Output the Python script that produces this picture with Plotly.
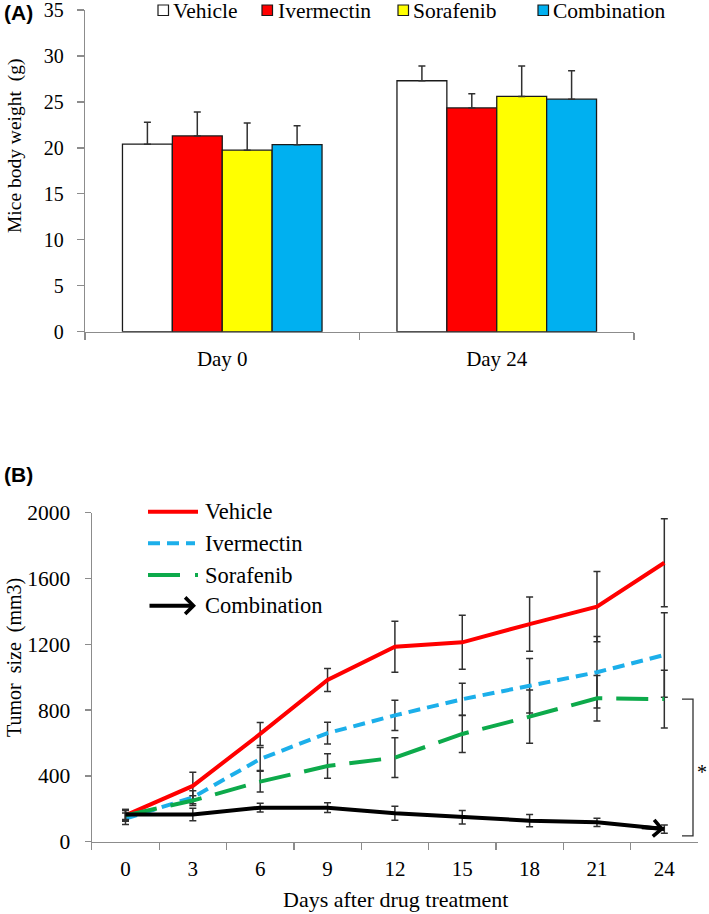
import plotly.graph_objects as go

# ---------------- Panel A data ----------------
groups = ["Day 0", "Day 24"]
weight_series = ["Vehicle", "Ivermectin", "Sorafenib", "Combination"]
vehicle_w = [20.4, 27.3]
vehicle_w_err = [2.4, 1.6]
ivermectin_w = [21.3, 24.35]
ivermectin_w_err = [2.6, 1.55]
sorafenib_w = [19.75, 25.6]
sorafenib_w_err = [2.95, 3.3]
combination_w = [20.35, 25.3]
combination_w_err = [2.05, 3.1]
weight_ticks = [0, 5, 10, 15, 20, 25, 30, 35]

# ---------------- Panel B data ----------------
days = ["0", "3", "6", "9", "12", "15", "18", "21", "24"]
vehicle = [160, 339, 655, 983, 1185, 1212, 1323, 1429, 1696]
vehicle_err = [35, 83, 70, 70, 155, 164, 165, 214, 267]
ivermectin = [140, 270, 503, 660, 768, 866, 948, 1030, 1135]
ivermectin_err = [35, 40, 70, 66, 92, 97, 165, 217, 257]
sorafenib = [160, 250, 365, 460, 511, 655, 760, 872, 867]
sorafenib_err = [30, 30, 63, 74, 121, 112, 162, 138, 176]
combination = [165, 166, 207, 207, 173, 148, 128, 118, 77]
combination_err = [30, 38, 27, 30, 43, 41, 37, 25, 25]
tumor_ticks = [0, 400, 800, 1200, 1600, 2000]

W, H = 709, 914
SERIF = "Liberation Serif"
AX = "#8c8c8c"
EB = "#303030"


def px(x):
    return x / W


def py(y):
    return 1 - y / H


traces = []

# ---------- Panel A bars ----------
bar_fill = {"Vehicle": "#FFFFFF", "Ivermectin": "#FF0000",
            "Sorafenib": "#FFFF00", "Combination": "#00B0F0"}
bar_vals = {"Vehicle": (vehicle_w, vehicle_w_err),
            "Ivermectin": (ivermectin_w, ivermectin_w_err),
            "Sorafenib": (sorafenib_w, sorafenib_w_err),
            "Combination": (combination_w, combination_w_err)}
for name in weight_series:
    vals, errs = bar_vals[name]
    traces.append(go.Bar(
        x=groups, y=vals, name=name, xaxis="x", yaxis="y",
        marker=dict(color=bar_fill[name], line=dict(color="#1a1a1a", width=1.3)),
        error_y=dict(type="data", array=errs, arrayminus=[0] * len(errs),
                     symmetric=False, color=EB, thickness=1.5, width=3.5),
        showlegend=False,
    ))

# ---------- Panel B lines ----------
line_specs = [
    ("Vehicle", vehicle, vehicle_err, "#FF0000", "solid"),
    ("Ivermectin", ivermectin, ivermectin_err, "#1CAFEA", "12px,7px"),
    ("Sorafenib", sorafenib, sorafenib_err, "#0DAA4B", "32px,14px"),
    ("Combination", combination, combination_err, "#000000", "solid"),
]
for name, vals, errs, col, dash in line_specs:
    traces.append(go.Scatter(
        x=days, y=vals, name=name, mode="lines", xaxis="x2", yaxis="y2",
        line=dict(color=col, width=4, dash=dash),
        error_y=dict(type="data", array=errs, color=EB, thickness=1.5, width=3.5),
        showlegend=False,
    ))

ann = []
shapes = []

# Arrow head at end of the Combination line (category index of last day)
ann.append(dict(
    x=len(days) - 1, y=combination[-1], xref="x2", yref="y2",
    ax=-24, ay=-2, axref="pixel", ayref="pixel",
    showarrow=True, arrowhead=4, arrowsize=0.8, arrowwidth=4,
    arrowcolor="#000000", text="",
))

# Panel labels
ann.append(dict(x=px(2), y=py(12), xref="paper", yref="paper", xanchor="left",
                yanchor="middle", text="<b>(A)</b>", showarrow=False,
                font=dict(family="Liberation Sans", size=21, color="#000")))
ann.append(dict(x=px(2), y=py(474), xref="paper", yref="paper", xanchor="left",
                yanchor="middle", text="<b>(B)</b>", showarrow=False,
                font=dict(family="Liberation Sans", size=21, color="#000")))

# Axis titles
ann.append(dict(x=px(15), y=py(146), xref="paper", yref="paper",
                xanchor="center", yanchor="middle", textangle=-90,
                text="Mice body weight\u00a0 (g)", showarrow=False,
                font=dict(family=SERIF, size=19.5, color="#000")))
ann.append(dict(x=px(14), y=py(658), xref="paper", yref="paper",
                xanchor="center", yanchor="middle", textangle=-90,
                text="Tumor\u00a0 size\u00a0 (mm3)", showarrow=False,
                font=dict(family=SERIF, size=20, color="#000")))
ann.append(dict(x=px(395), y=py(899), xref="paper", yref="paper",
                xanchor="center", yanchor="middle",
                text="Days after drug treatment", showarrow=False,
                font=dict(family=SERIF, size=22, color="#000")))

# Panel A legend (manual)
leg_a = [("Vehicle", 158, 171), ("Ivermectin", 262, 276),
         ("Sorafenib", 398, 411), ("Combination", 538, 551)]
for name, sx, tx in leg_a:
    shapes.append(dict(type="rect", xref="paper", yref="paper",
                       x0=px(sx), x1=px(sx + 10.5), y0=py(15.5), y1=py(5),
                       fillcolor=bar_fill[name],
                       line=dict(color="#1a1a1a", width=1.2)))
    ann.append(dict(x=px(tx), y=py(10.5), xref="paper", yref="paper",
                    xanchor="left", yanchor="middle", text=name,
                    showarrow=False,
                    font=dict(family=SERIF, size=21.5, color="#000")))

# Panel B legend (manual)
leg_b_rows = [511.7, 543.3, 575, 605.7]
for (name, vals, errs, col, dash), yy in zip(line_specs, leg_b_rows):
    if name == "Sorafenib":
        shapes.append(dict(type="line", xref="paper", yref="paper",
                           x0=px(148), x1=px(198), y0=py(yy), y1=py(yy),
                           line=dict(color=col, width=4,
                                     dash="32px,15px,3px,15px")))
    elif name == "Combination":
        ann.append(dict(x=px(196), y=py(yy), xref="paper", yref="paper",
                        ax=-48, ay=0, axref="pixel", ayref="pixel",
                        showarrow=True, arrowhead=4, arrowsize=0.8,
                        arrowwidth=4, arrowcolor=col, text=""))
    else:
        shapes.append(dict(type="line", xref="paper", yref="paper",
                           x0=px(148), x1=px(198 if dash == "solid" else 195),
                           y0=py(yy), y1=py(yy),
                           line=dict(color=col, width=4, dash=dash)))
    ann.append(dict(x=px(203), y=py(yy), xref="paper", yref="paper",
                    xanchor="left", yanchor="middle", text=name,
                    showarrow=False,
                    font=dict(family=SERIF, size=22.5, color="#000")))

# Significance bracket between Sorafenib and Combination at day 24
br_x0, br_x1 = px(682), px(693)
br_top = sorafenib[-1]
br_bot = 35
shapes.append(dict(type="path", xref="paper", yref="y2",
                   path=f"M {br_x0},{br_top} L {br_x1},{br_top} L {br_x1},{br_bot} L {br_x0},{br_bot}",
                   line=dict(color="#303030", width=1.3)))
ann.append(dict(x=px(702), y=(br_top + br_bot) / 2 - 30, xref="paper", yref="y2",
                xanchor="center", yanchor="middle", text="*", showarrow=False,
                font=dict(family=SERIF, size=20, color="#000")))

# ---------- Axes / layout ----------
line_style = dict(showline=True, linecolor=AX, linewidth=1.3, ticks="outside",
                  tickcolor=AX, tickwidth=1.3, showgrid=False, zeroline=False,
                  automargin=False, mirror=False, ticklabeloverflow="allow")

layout = go.Layout(
    template="none",
    width=W, height=H, autosize=False,
    margin=dict(l=0, r=0, t=0, b=0, pad=0),
    paper_bgcolor="white", plot_bgcolor="white",
    font=dict(family=SERIF, color="#000"),
    showlegend=False,
    barmode="group", bargap=0.273, bargroupgap=0,
    xaxis=dict(domain=[px(85), px(634)], anchor="y", type="category",
               categoryorder="array", categoryarray=groups, range=[-0.5, 1.5],
               tickson="boundaries", ticklen=7, ticklabelstandoff=8,
               tickfont=dict(family=SERIF, size=21, color="#000"), **line_style),
    yaxis=dict(domain=[py(331.7), py(10)], anchor="x", range=[0, 35],
               tickvals=weight_ticks, ticklen=7, ticklabelstandoff=9,
               tickfont=dict(family=SERIF, size=20, color="#000"), **line_style),
    xaxis2=dict(domain=[px(91.8), px(698)], anchor="y2", type="category",
                categoryorder="array", categoryarray=days, range=[-0.5, 8.5],
                tickson="boundaries", ticklen=7, ticklabelstandoff=8,
                tickangle=0,
                tickfont=dict(family=SERIF, size=21, color="#000"), **line_style),
    yaxis2=dict(domain=[py(841.7), py(512.7)], anchor="x2", range=[0, 2000],
                tickvals=tumor_ticks, ticklen=6, ticklabelstandoff=10,
                tickfont=dict(family=SERIF, size=21.5, color="#000"), **line_style),
    annotations=ann,
    shapes=shapes,
)

fig = go.Figure(data=traces, layout=layout)

# Remove the browser's default body margin so the 709x914 figure fills the window
fig.write_html("out.html",
               config={"displayModeBar": False, "staticPlot": True},
               post_script="document.body.style.margin='0';document.body.style.overflow='hidden';")
